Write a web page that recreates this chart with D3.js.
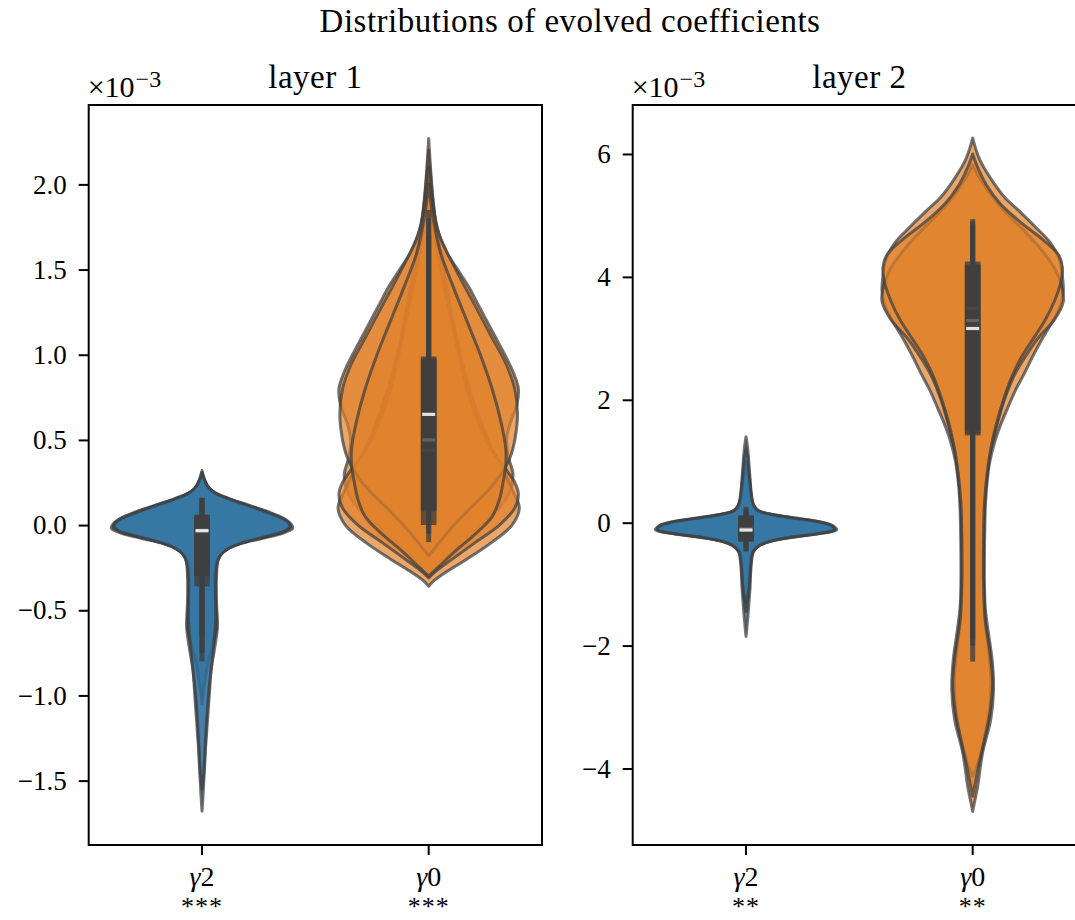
<!DOCTYPE html>
<html>
<head>
<meta charset="UTF-8" />
<title>Distributions of evolved coefficients</title>
<script src="https://d3js.org/d3.v7.min.js"></script>
<style>
  body { margin: 0; background: #fff; }
  text { font-family: 'Liberation Serif', 'Times New Roman', serif; fill: #000; }
</style>
</head>
<body>
<div id="viz"></div>
<script>
// ---- data (values in units of 1e-3) ----
const categories = ['γ2', 'γ0'];
const layerTitles = ['layer 1', 'layer 2'];
const layer1Stars = ['***', '***'];
const layer2Stars = ['**', '**'];
const layer1Ticks = [-1.5, -1.0, -0.5, 0.0, 0.5, 1.0, 1.5, 2.0];
const layer2Ticks = [-4, -2, 0, 2, 4, 6];
const layer1Domain = [-1.878, 2.466];
const layer2Domain = [-5.245, 6.797];

// violin profiles: [value, relative half width]
const l1g2Runs = [
  [[0.32,0],[0.28,0.02],[0.24,0.05],[0.2,0.11],[0.16,0.28],[0.12,0.5],[0.08,0.72],[0.04,0.9],[0,0.99],[-0.02,1],[-0.05,0.88],[-0.08,0.65],[-0.11,0.42],[-0.15,0.25],[-0.2,0.18],[-0.3,0.16],[-0.45,0.16],[-0.6,0.17],[-0.72,0.14],[-0.85,0.1],[-1.0,0.08],[-1.15,0.06],[-1.3,0.04],[-1.45,0.025],[-1.58,0.012],[-1.68,0]],
  [[0.3,0],[0.26,0.03],[0.22,0.07],[0.18,0.17],[0.14,0.36],[0.1,0.58],[0.06,0.78],[0.02,0.94],[-0.01,0.98],[-0.04,0.9],[-0.07,0.7],[-0.1,0.47],[-0.14,0.28],[-0.2,0.17],[-0.3,0.14],[-0.45,0.15],[-0.6,0.16],[-0.7,0.12],[-0.8,0.07],[-0.9,0.035],[-1.0,0.01],[-1.05,0]],
  [[0.31,0],[0.27,0.025],[0.23,0.06],[0.19,0.14],[0.15,0.32],[0.11,0.54],[0.07,0.75],[0.03,0.92],[0,0.97],[-0.03,0.93],[-0.06,0.76],[-0.09,0.54],[-0.13,0.32],[-0.18,0.2],[-0.25,0.16],[-0.4,0.15],[-0.55,0.15],[-0.7,0.13],[-0.85,0.1],[-1.0,0.07],[-1.15,0.05],[-1.3,0.035],[-1.45,0.02],[-1.55,0]]
];
const l1g0Runs = [
  [[2.27,0],[2.1,0.02],[1.9,0.05],[1.75,0.09],[1.6,0.2],[1.5,0.32],[1.4,0.44],[1.3,0.54],[1.2,0.64],[1.1,0.74],[1.0,0.84],[0.9,0.93],[0.8,0.99],[0.7,0.97],[0.6,0.9],[0.5,0.86],[0.4,0.88],[0.3,0.93],[0.2,0.9],[0.1,0.78],[0.0,0.58],[-0.1,0.36],[-0.2,0.16],[-0.27,0.04],[-0.3,0]],
  [[2.2,0],[2.0,0.03],[1.8,0.07],[1.6,0.13],[1.4,0.2],[1.2,0.27],[1.0,0.35],[0.8,0.45],[0.6,0.58],[0.45,0.7],[0.3,0.84],[0.2,0.93],[0.1,1.0],[0.0,0.92],[-0.1,0.7],[-0.2,0.42],[-0.28,0.18],[-0.33,0.05],[-0.36,0]],
  [[1.95,0],[1.8,0.04],[1.6,0.1],[1.4,0.17],[1.2,0.25],[1.0,0.33],[0.8,0.42],[0.6,0.55],[0.45,0.68],[0.35,0.82],[0.25,0.95],[0.18,0.99],[0.1,0.95],[0.0,0.78],[-0.1,0.52],[-0.2,0.26],[-0.27,0.08],[-0.31,0]],
  [[2.1,0],[1.9,0.04],[1.7,0.12],[1.5,0.3],[1.3,0.5],[1.1,0.7],[0.95,0.85],[0.8,0.95],[0.65,0.98],[0.5,0.95],[0.4,0.9],[0.3,0.8],[0.2,0.65],[0.1,0.46],[0.0,0.28],[-0.1,0.12],[-0.18,0]],
  [[2.0,0],[1.8,0.05],[1.6,0.13],[1.4,0.27],[1.2,0.42],[1.0,0.57],[0.8,0.7],[0.6,0.8],[0.45,0.85],[0.35,0.85],[0.25,0.82],[0.15,0.78],[0.05,0.7],[-0.05,0.52],[-0.15,0.3],[-0.25,0.1],[-0.3,0]]
];
const l2g2Runs = [
  [[1.4,0],[1.25,0.015],[1.1,0.025],[0.9,0.035],[0.7,0.045],[0.5,0.055],[0.35,0.07],[0.25,0.1],[0.18,0.16],[0.12,0.35],[0.06,0.62],[0,0.86],[-0.06,0.97],[-0.12,1.0],[-0.18,0.8],[-0.24,0.5],[-0.3,0.28],[-0.38,0.14],[-0.48,0.08],[-0.65,0.06],[-0.85,0.05],[-1.05,0.045],[-1.25,0.035],[-1.45,0.025],[-1.62,0.015],[-1.77,0.006],[-1.85,0]],
  [[1.0,0],[0.85,0.02],[0.7,0.035],[0.5,0.05],[0.35,0.065],[0.25,0.09],[0.18,0.15],[0.12,0.32],[0.06,0.58],[0,0.83],[-0.06,0.95],[-0.12,0.97],[-0.18,0.78],[-0.24,0.48],[-0.3,0.26],[-0.38,0.13],[-0.48,0.07],[-0.65,0.05],[-0.85,0.04],[-1.05,0.03],[-1.25,0.02],[-1.4,0.008],[-1.45,0]],
  [[1.2,0],[1.05,0.02],[0.85,0.03],[0.65,0.045],[0.45,0.06],[0.3,0.08],[0.2,0.13],[0.13,0.3],[0.07,0.56],[0.01,0.82],[-0.05,0.95],[-0.11,0.98],[-0.17,0.82],[-0.23,0.52],[-0.29,0.3],[-0.37,0.15],[-0.47,0.08],[-0.65,0.055],[-0.85,0.045],[-1.05,0.035],[-1.2,0.02],[-1.3,0]]
];
const l2g0Runs = [
  [[6.26,0],[6.1,0.03],[5.9,0.08],[5.6,0.2],[5.3,0.35],[5.09,0.5],[4.8,0.7],[4.55,0.86],[4.27,0.96],[4.0,0.99],[3.78,1.0],[3.5,0.96],[3.25,0.87],[3.0,0.77],[2.7,0.66],[2.43,0.57],[2.15,0.47],[1.88,0.39],[1.6,0.31],[1.35,0.25],[1.0,0.19],[0.6,0.155],[0.26,0.14],[0,0.135],[-0.5,0.13],[-1.0,0.13],[-1.4,0.14],[-1.86,0.18],[-2.24,0.215],[-2.72,0.23],[-3.2,0.2],[-3.74,0.11],[-4.29,0.055],[-4.55,0.02],[-4.7,0]],
  [[5.82,0],[5.6,0.08],[5.3,0.22],[5.0,0.4],[4.7,0.6],[4.4,0.78],[4.1,0.92],[3.8,0.99],[3.6,1.0],[3.3,0.9],[3.0,0.72],[2.7,0.58],[2.4,0.46],[2.0,0.35],[1.6,0.27],[1.2,0.2],[0.8,0.16],[0.3,0.13],[-0.3,0.12],[-1.0,0.12],[-1.5,0.13],[-2.0,0.17],[-2.5,0.2],[-3.0,0.19],[-3.5,0.13],[-3.9,0.06],[-4.13,0]],
  [[6.0,0],[5.8,0.05],[5.5,0.15],[5.2,0.3],[4.9,0.52],[4.6,0.78],[4.35,0.95],[4.15,0.99],[3.9,0.97],[3.6,0.9],[3.3,0.8],[3.0,0.67],[2.7,0.54],[2.4,0.44],[2.0,0.34],[1.6,0.26],[1.2,0.2],[0.8,0.16],[0.3,0.13],[-0.3,0.12],[-1.0,0.12],[-1.6,0.14],[-2.1,0.19],[-2.6,0.22],[-3.1,0.19],[-3.6,0.12],[-4.0,0.06],[-4.3,0.02],[-4.45,0]]
];

// box stats per run: [whisker low, q1, median, q3, whisker high]
const l1g2Boxes = [[-0.8, -0.36, -0.04, 0.06, 0.16], [-0.65, -0.3, -0.03, 0.05, 0.15], [-0.75, -0.29, -0.033, 0.06, 0.16]];
const l1g0Boxes = [[-0.1, 0.0, 0.44, 0.97, 1.8], [-0.05, 0.08, 0.5, 0.99, 1.85], [0.0, 0.09, 0.65, 0.98, 1.7]];
const l2g2Boxes = [[-0.47, -0.3, -0.12, 0.1, 0.26], [-0.4, -0.28, -0.1, 0.12, 0.2], [-0.45, -0.31, -0.12, 0.11, 0.22]];
const l2g0Boxes = [[-2.26, 1.5, 3.49, 4.2, 4.9], [-2.0, 1.42, 3.29, 4.25, 4.94], [-1.9, 1.45, 3.16, 4.2, 4.85]];

const colors = ['#3274a1', '#e1812c'];

// ---- layout ----
const W = 1075, H = 920;
const plotTop = 105, plotBottom = 845, panelW = 453.3;
const svg = d3.select('#viz').append('svg').attr('width', W).attr('height', H);

svg.append('text')
  .attr('x', 570).attr('y', 32)
  .attr('text-anchor', 'middle')
  .style('font-size', '33px')
  .style('letter-spacing', '0.5px')
  .text('Distributions of evolved coefficients');

function drawPanel(left, title, domain, ticks, fmt, violins, boxes, stars) {
  const g = svg.append('g');
  const x = d3.scaleBand().domain(categories).range([left, left + panelW]);
  const y = d3.scaleLinear().domain(domain).range([plotBottom, plotTop]);
  const w = d3.scaleLinear().domain([0, 1]).range([0, x.bandwidth() * 0.4]);

  categories.forEach((c, i) => {
    const cx = x(c) + x.bandwidth() / 2;
    const area = d3.area()
      .curve(d3.curveCatmullRom.alpha(0.5))
      .y(d => y(d[0]))
      .x0(d => cx - w(d[1]))
      .x1(d => cx + w(d[1]));
    g.append('g').selectAll('path')
      .data(violins[i])
      .join('path')
      .attr('d', d => area(d))
      .attr('fill', colors[i])
      .attr('fill-opacity', 0.7)
      .attr('stroke', '#3f3f3f')
      .attr('stroke-opacity', 0.72)
      .attr('stroke-width', 3)
      .attr('stroke-linejoin', 'round');
  });

  categories.forEach((c, i) => {
    const cx = x(c) + x.bandwidth() / 2;
    boxes[i].forEach(b => {
      const bg = g.append('g').attr('opacity', 0.78);
      bg.append('rect')
        .attr('x', cx - 2.5).attr('width', 5)
        .attr('y', y(b[4])).attr('height', y(b[0]) - y(b[4]))
        .attr('fill', '#3f3f3f');
      bg.append('rect')
        .attr('x', cx - 7.8).attr('width', 15.6)
        .attr('y', y(b[3])).attr('height', y(b[1]) - y(b[3]))
        .attr('fill', '#3f3f3f');
      g.append('rect')
        .attr('x', cx - 6.5).attr('width', 13)
        .attr('y', y(b[2]) - 1.6).attr('height', 3.2)
        .attr('fill', '#ffffff').attr('opacity', 0.85);
    });
  });

  // spines
  g.append('rect')
    .attr('x', left).attr('y', plotTop)
    .attr('width', panelW).attr('height', plotBottom - plotTop)
    .attr('fill', 'none').attr('stroke', '#000').attr('stroke-width', 2);

  const ay = g.append('g')
    .attr('transform', `translate(${left},0)`)
    .call(d3.axisLeft(y).tickValues(ticks).tickFormat(fmt).tickSize(10).tickPadding(12));
  ay.select('.domain').remove();
  ay.selectAll('line').attr('stroke-width', 2);
  ay.attr('font-size', 27);

  const ax = g.append('g')
    .attr('transform', `translate(0,${plotBottom})`)
    .call(d3.axisBottom(x).tickSize(10).tickFormat(''));
  ax.select('.domain').remove();
  ax.selectAll('line').attr('stroke-width', 2);

  categories.forEach((c, i) => {
    const cx = x(c) + x.bandwidth() / 2;
    const t = g.append('text')
      .attr('x', cx).attr('y', 886)
      .attr('text-anchor', 'middle')
      .style('font-size', '28px');
    t.append('tspan').style('font-style', 'italic').text(c[0]);
    t.append('tspan').text(c.slice(1));
    g.append('text')
      .attr('x', cx).attr('y', 915)
      .attr('text-anchor', 'middle')
      .style('font-size', '26px')
      .style('letter-spacing', '1px')
      .text(stars[i]);
  });

  g.append('text')
    .attr('x', left + panelW / 2).attr('y', 88)
    .attr('text-anchor', 'middle')
    .style('font-size', '33px')
    .style('letter-spacing', '0.5px')
    .text(title);

  const off = g.append('text')
    .attr('x', left - 1).attr('y', 97)
    .style('font-size', '30px');
  off.append('tspan').text('×10');
  off.append('tspan').attr('dy', -10).attr('dx', 1).style('font-size', '24px').text('−3');
}

drawPanel(88.7, layerTitles[0], layer1Domain, layer1Ticks, d3.format('.1f'),
  [l1g2Runs, l1g0Runs], [l1g2Boxes, l1g0Boxes], layer1Stars);
drawPanel(632.7, layerTitles[1], layer2Domain, layer2Ticks, d3.format('d'),
  [l2g2Runs, l2g0Runs], [l2g2Boxes, l2g0Boxes], layer2Stars);
</script>
</body>
</html>
